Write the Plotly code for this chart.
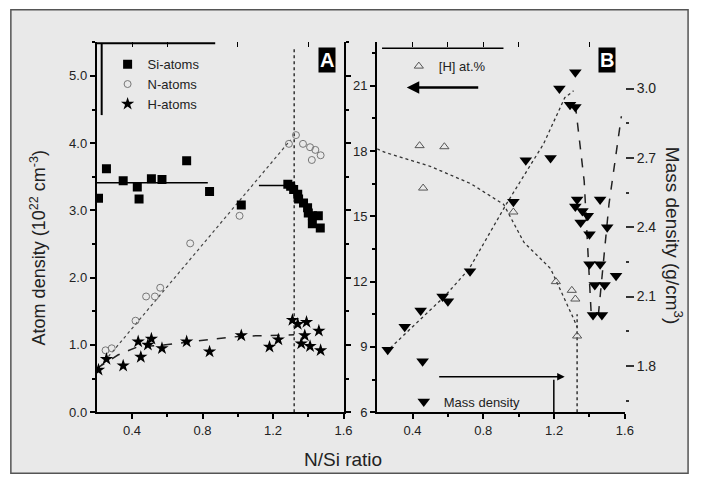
import plotly.graph_objects as go

W, H = 703, 491
def px(x): return x / W
def py(y): return 1 - y / H

# ---------------- Panel A data ----------------
si_x = [0.21, 0.255, 0.35, 0.43, 0.44, 0.51, 0.57, 0.71, 0.84, 1.02,
        1.284, 1.30, 1.317, 1.34, 1.345, 1.373, 1.396, 1.40, 1.423, 1.457, 1.423, 1.468]
si_y = [3.18, 3.62, 3.44, 3.35, 3.17, 3.47, 3.46, 3.74, 3.28, 3.08,
        3.39, 3.36, 3.31, 3.24, 3.17, 3.11, 3.04, 2.96, 2.92, 2.92, 2.80, 2.74]
n_x = [0.25, 0.285, 0.42, 0.48, 0.53, 0.56, 0.73, 1.01, 1.29, 1.33, 1.37, 1.41, 1.44, 1.47, 1.42]
n_y = [0.92, 0.95, 1.36, 1.72, 1.72, 1.85, 2.51, 2.92, 3.99, 4.12, 3.99, 3.94, 3.90, 3.82, 3.75]
h_x = [0.21, 0.255, 0.35, 0.435, 0.45, 0.49, 0.51, 0.57, 0.71, 0.84, 1.02, 1.18, 1.23,
       1.31, 1.34, 1.39, 1.46, 1.38, 1.36, 1.41, 1.47]
h_y = [0.63, 0.79, 0.69, 1.05, 0.82, 1.00, 1.09, 0.95, 1.05, 0.90, 1.14, 0.97, 1.08,
       1.37, 1.31, 1.34, 1.21, 1.14, 1.02, 0.98, 0.92]
si_fit1_x = [0.2, 0.83]
si_fit1_y = [3.41, 3.41]
si_fit2_x = [1.12, 1.33]
si_fit2_y = [3.37, 3.37]
n_fit_x = [0.2, 1.30]
n_fit_y = [0.62, 4.05]
h_fit_x = [0.2, 0.32, 0.43, 0.58, 0.84, 1.02, 1.32]
h_fit_y = [0.65, 0.85, 0.97, 1.00, 1.08, 1.13, 1.15]
a_vline_x = [1.32, 1.32]
a_vline_y = [0.0, 5.4]

# ---------------- Panel B data ----------------
md_x = [0.26, 0.356, 0.446, 0.457, 0.57, 0.60, 0.725, 0.97, 1.04, 1.18, 1.23, 1.32, 1.29,
        1.32, 1.33, 1.32, 1.36, 1.39, 1.35, 1.40, 1.46, 1.50, 1.40, 1.46, 1.43, 1.485,
        1.55, 1.42, 1.47]
md_y = [1.87, 1.97, 2.04, 1.82, 2.10, 2.08, 2.21, 2.51, 2.69, 2.70, 3.00, 3.07, 2.93,
        2.92, 2.52, 2.49, 2.47, 2.45, 2.42, 2.37, 2.52, 2.40, 2.24, 2.24, 2.15, 2.15,
        2.19, 2.02, 2.02]
hat_x = [0.44, 0.58, 0.46, 0.97, 1.21, 1.30, 1.32, 1.33]
hat_y = [18.25, 18.2, 16.3, 15.2, 12.0, 11.6, 11.2, 9.5]
hat_fit_x = [0.2, 0.245, 0.5, 0.73, 0.915, 1.03, 1.18, 1.25, 1.31, 1.33]
hat_fit_y = [18.1, 17.94, 17.3, 16.5, 15.55, 13.8, 12.6, 11.4, 10.3, 9.9]
md_fit_x = [0.25, 0.58, 0.72, 0.93, 1.14, 1.26, 1.31]
md_fit_y = [1.86, 2.10, 2.22, 2.50, 2.76, 2.96, 2.99]
md_v1_x = [1.32, 1.37, 1.41]
md_v1_y = [2.93, 2.60, 2.02]
md_v2_x = [1.45, 1.51, 1.58]
md_v2_y = [2.02, 2.50, 2.88]
b_vline_x = [1.33, 1.33]
b_vline_y = [6.0, 10.5]

x_ticks = [0.4, 0.8, 1.2, 1.6]
x_ticktext = ["0.4", "0.8", "1.2", "1.6"]
a_y_ticks = [0, 1, 2, 3, 4, 5]
b_y_ticks = [6, 9, 12, 15, 18, 21]
b_y2_ticks = [1.8, 2.1, 2.4, 2.7, 3.0]

FONT = "Liberation Sans, Arial, sans-serif"
TXT = "#222"

fig = go.Figure()

# Panel A traces
fig.add_trace(go.Scatter(x=si_fit1_x, y=si_fit1_y, mode="lines", line=dict(color="black", width=1.5),
                         showlegend=False, xaxis="x", yaxis="y"))
fig.add_trace(go.Scatter(x=si_fit2_x, y=si_fit2_y, mode="lines", line=dict(color="black", width=1.5),
                         showlegend=False, xaxis="x", yaxis="y"))
fig.add_trace(go.Scatter(x=n_fit_x, y=n_fit_y, mode="lines", line=dict(color="#444", width=1.2, dash="dot"),
                         showlegend=False, xaxis="x", yaxis="y"))
fig.add_trace(go.Scatter(x=h_fit_x, y=h_fit_y, mode="lines", line=dict(color="#222", width=1.5, dash="dash"),
                         showlegend=False, xaxis="x", yaxis="y"))
fig.add_trace(go.Scatter(x=a_vline_x, y=a_vline_y, mode="lines", line=dict(color="#333", width=1.5, dash="dot"),
                         showlegend=False, xaxis="x", yaxis="y"))
fig.add_trace(go.Scatter(x=si_x, y=si_y, mode="markers", name="Si-atoms",
                         marker=dict(symbol="square", size=9, color="black"),
                         xaxis="x", yaxis="y", legend="legend"))
fig.add_trace(go.Scatter(x=n_x, y=n_y, mode="markers", name="N-atoms",
                         marker=dict(symbol="circle-open", size=7, color="#777", line=dict(width=1)),
                         xaxis="x", yaxis="y", legend="legend"))
fig.add_trace(go.Scatter(x=h_x, y=h_y, mode="markers", name="H-atoms",
                         marker=dict(symbol="star", size=10, color="black"),
                         xaxis="x", yaxis="y", legend="legend"))

# Panel B traces
fig.add_trace(go.Scatter(x=hat_fit_x, y=hat_fit_y, mode="lines", line=dict(color="#333", width=1.3, dash="dot"),
                         showlegend=False, xaxis="x2", yaxis="y2"))
fig.add_trace(go.Scatter(x=b_vline_x, y=b_vline_y, mode="lines", line=dict(color="#333", width=1.5, dash="dot"),
                         showlegend=False, xaxis="x2", yaxis="y2"))
fig.add_trace(go.Scatter(x=hat_x, y=hat_y, mode="markers", name="[H] at.%",
                         marker=dict(symbol="triangle-up-open", size=8, color="#555", line=dict(width=1)),
                         xaxis="x2", yaxis="y2", legend="legend2"))
fig.add_trace(go.Scatter(x=md_fit_x, y=md_fit_y, mode="lines", line=dict(color="#333", width=1.3, dash="dot"),
                         showlegend=False, xaxis="x2", yaxis="y3"))
fig.add_trace(go.Scatter(x=md_v1_x, y=md_v1_y, mode="lines", line=dict(color="#222", width=1.5, dash="dash"),
                         showlegend=False, xaxis="x2", yaxis="y3"))
fig.add_trace(go.Scatter(x=md_v2_x, y=md_v2_y, mode="lines", line=dict(color="#222", width=1.5, dash="dash"),
                         showlegend=False, xaxis="x2", yaxis="y3"))
fig.add_trace(go.Scatter(x=md_x, y=md_y, mode="markers", name="Mass density",
                         marker=dict(symbol="triangle-down", size=11, color="black"),
                         xaxis="x2", yaxis="y3", legend="legend3"))

# invisible traces for top tick axes
fig.add_trace(go.Scatter(x=[None], y=[None], xaxis="x3", yaxis="y", showlegend=False, hoverinfo="skip"))
fig.add_trace(go.Scatter(x=[None], y=[None], xaxis="x4", yaxis="y2", showlegend=False, hoverinfo="skip"))

A_DOM = [px(98), px(348)]
B_DOM = [px(382), px(633)]
Y_DOM = [py(419), py(43)]

xcommon = dict(range=[0.2, 1.6], tickvals=x_ticks, ticktext=x_ticktext, showline=True, linewidth=2,
               linecolor="black", ticks="outside", ticklen=5, tickwidth=1.5, tickcolor="black",
               showgrid=False, zeroline=False, tickfont=dict(size=13, color=TXT, family=FONT),
               minor=dict(tickvals=[0.6, 1.0, 1.4], ticks="outside", ticklen=3, tickcolor="black"))

fig.update_layout(
    width=W, height=H, autosize=False,
    margin=dict(l=0, r=0, t=0, b=0),
    paper_bgcolor="white", plot_bgcolor="rgba(0,0,0,0)",
    font=dict(family=FONT, color=TXT),
    xaxis=dict(domain=A_DOM, anchor="y", **xcommon),
    xaxis2=dict(domain=B_DOM, anchor="y2", **xcommon),
    xaxis3=dict(overlaying="x", side="top", anchor="y", range=[0.2, 1.6], showline=False,
                tickvals=[0.4, 0.6, 1.0, 1.4], ticks="inside", ticklen=5, tickcolor="black",
                showticklabels=False, showgrid=False, zeroline=False),
    xaxis4=dict(overlaying="x2", side="top", anchor="y2", range=[0.2, 1.6], showline=False,
                tickvals=[0.4, 0.6, 0.8, 1.0, 1.4], ticks="inside", ticklen=5, tickcolor="black",
                showticklabels=False, showgrid=False, zeroline=False),
    yaxis=dict(domain=Y_DOM, anchor="x", range=[0, 5.5], tickvals=a_y_ticks, tickformat=".1f",
               showline=True, linewidth=2, linecolor="black", mirror="ticks",
               ticks="outside", ticklen=5, tickwidth=1.5, tickcolor="black",
               showgrid=False, zeroline=False, tickfont=dict(size=13, color=TXT, family=FONT),
               minor=dict(dtick=0.5, tick0=0, ticks="outside", ticklen=3, tickcolor="black")),
    yaxis2=dict(domain=Y_DOM, anchor="x2", range=[6, 23], tickvals=b_y_ticks,
                showline=True, linewidth=2, linecolor="black",
                ticks="outside", ticklen=5, tickwidth=1.5, tickcolor="black",
                showgrid=False, zeroline=False, tickfont=dict(size=13, color=TXT, family=FONT),
                minor=dict(dtick=1.5, tick0=6, ticks="outside", ticklen=3, tickcolor="black")),
    yaxis3=dict(overlaying="y2", anchor="x2", side="right", range=[1.6, 3.2], tickvals=b_y2_ticks,
                tickformat=".1f", showline=False, ticks="outside", ticklen=8, tickwidth=1.5,
                tickcolor="#333", showgrid=False, zeroline=False,
                tickfont=dict(size=14, color=TXT, family=FONT),
                minor=dict(tickvals=[1.65, 1.95, 2.25, 2.55, 2.85], ticks="outside", ticklen=3, tickcolor="#333")),
    legend=dict(x=px(109), y=py(50), xanchor="left", yanchor="top", bgcolor="rgba(0,0,0,0)",
                font=dict(size=13, color=TXT, family=FONT), itemwidth=30, tracegroupgap=0),
    legend2=dict(x=px(404), y=py(52), xanchor="left", yanchor="top", bgcolor="rgba(0,0,0,0)",
                 font=dict(size=13, color=TXT, family=FONT), itemwidth=30),
    legend3=dict(x=px(409), y=py(393), xanchor="left", yanchor="top", bgcolor="rgba(0,0,0,0)",
                 font=dict(size=13, color=TXT, family=FONT), itemwidth=30),
)

shapes = [
    dict(type="rect", xref="paper", yref="paper", x0=px(11), x1=px(697), y0=py(481), y1=py(10),
         fillcolor="#e9e9e9", line=dict(color="#555", width=1.5), layer="below"),
    # legend frame pieces panel A
    dict(type="line", xref="paper", yref="paper", x0=px(98), x1=px(218), y0=py(44), y1=py(44),
         line=dict(color="black", width=2)),
    dict(type="line", xref="paper", yref="paper", x0=px(103), x1=px(103), y0=py(44), y1=py(117),
         line=dict(color="black", width=2)),
    # legend frame pieces panel B
    dict(type="line", xref="paper", yref="paper", x0=px(387), x1=px(510), y0=py(49), y1=py(49),
         line=dict(color="black", width=1.5)),
    dict(type="line", xref="paper", yref="paper", x0=px(561), x1=px(561), y0=py(386), y1=py(419),
         line=dict(color="black", width=1.5)),
]
fig.update_layout(shapes=shapes)

annotations = [
    dict(text="<b>A</b>", x=px(331), y=py(61), xref="paper", yref="paper", showarrow=False,
         xanchor="center", yanchor="middle",
         font=dict(size=20, color="white", family=FONT), bgcolor="black", borderpad=1),
    dict(text="<b>B</b>", x=px(615), y=py(61), xref="paper", yref="paper", showarrow=False,
         xanchor="center", yanchor="middle",
         font=dict(size=20, color="white", family=FONT), bgcolor="black", borderpad=1),
    dict(text="Atom density (10<sup>22</sup> cm<sup>-3</sup>)", x=px(39), y=py(252), xref="paper",
         yref="paper", showarrow=False, textangle=-90, xanchor="center", yanchor="middle",
         font=dict(size=18, color=TXT, family=FONT)),
    dict(text="Mass density (g/cm<sup>3</sup>)", x=px(683), y=py(239), xref="paper",
         yref="paper", showarrow=False, textangle=90, xanchor="center", yanchor="middle",
         font=dict(size=19, color=TXT, family=FONT)),
    dict(text="N/Si ratio", x=px(347), y=py(467), xref="paper", yref="paper", showarrow=False,
         xanchor="center", yanchor="middle", font=dict(size=19, color=TXT, family=FONT)),
    # arrows
    dict(x=px(412), y=py(89), xref="paper", yref="paper", ax=73, ay=0, axref="pixel", ayref="pixel",
         showarrow=True, arrowhead=2, arrowsize=1, arrowwidth=2.5, arrowcolor="black", text=""),
    dict(x=px(572), y=py(383), xref="paper", yref="paper", ax=-127, ay=0, axref="pixel", ayref="pixel",
         showarrow=True, arrowhead=2, arrowsize=1, arrowwidth=1.5, arrowcolor="black", text=""),
]
fig.update_layout(annotations=annotations)

fig.write_html("out.html")
